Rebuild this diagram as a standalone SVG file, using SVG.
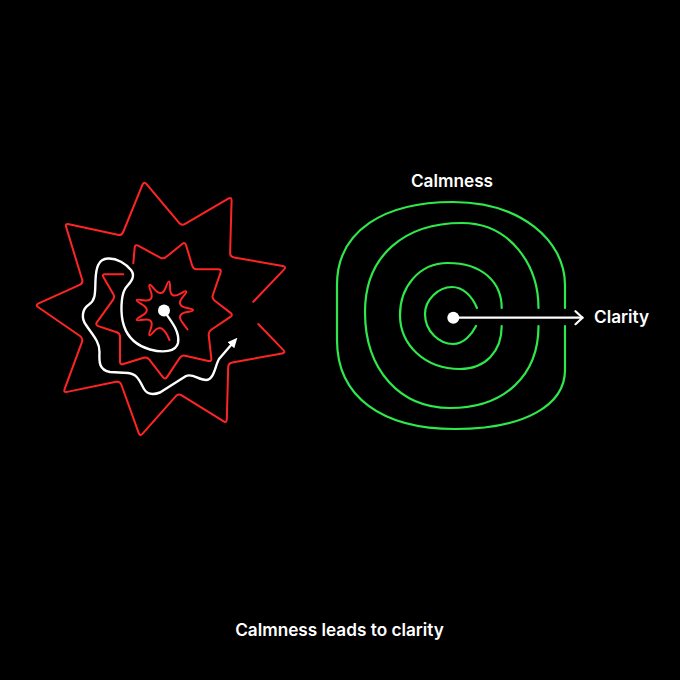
<svg xmlns="http://www.w3.org/2000/svg" width="680" height="680" viewBox="0 0 680 680">
<style>
.red{fill:none;stroke:#ff2424;stroke-width:2;stroke-linejoin:round;stroke-linecap:round}
.green{fill:none;stroke:#2ee84c;stroke-width:2.2;stroke-linecap:round}
.white{fill:none;stroke:#ffffff;stroke-width:2.4;stroke-linecap:round;stroke-linejoin:round}
.lbl{font-family:Inter,"Liberation Sans",sans-serif;font-weight:600;fill:#ffffff}
</style>
<defs>
<marker id="tri" viewBox="0 0 10 9" markerWidth="10" markerHeight="9" refX="1" refY="4.5" orient="auto" markerUnits="userSpaceOnUse">
<path d="M0,0 L10,4.5 L0,9 Z" fill="#ffffff"/>
</marker>
<marker id="chev" viewBox="0 0 10 16" markerWidth="10" markerHeight="16" refX="8.5" refY="8" orient="auto" markerUnits="userSpaceOnUse">
<path d="M1.5,1.5 L8.5,8 L1.5,14.5" fill="none" stroke="#ffffff" stroke-width="2.2" stroke-linecap="round" stroke-linejoin="round"/>
</marker>
</defs>
<rect width="680" height="680" fill="#000000"/>

<g id="chaos">
<path id="outer-star" class="red" d="M253.3,301.7 L283.94,269.59 Q286.7,266.7 282.76,266 L233.94,257.4 Q230,256.7 230.11,252.7 L231.59,200.7 Q231.7,196.7 228.25,198.72 L185.15,223.98 Q181.7,226 179.13,222.93 L146.57,184.07 Q144,181 142.49,184.7 L123.21,232 Q121.7,235.7 117.79,234.84 L68.91,224.16 Q65,223.3 66.17,227.12 L82.13,279.48 Q83.3,283.3 79.65,284.94 L38.65,303.36 Q35,305 38.29,307.27 L80.01,336.03 Q83.3,338.3 81.92,342.06 L64.68,388.94 Q63.3,392.7 67.22,391.89 L116.08,381.81 Q120,381 121.35,384.76 L138.65,432.94 Q140,436.7 142.65,433.7 L175.65,396.3 Q178.3,393.3 181.7,395.41 L223.3,421.19 Q226.7,423.3 226.81,419.3 L228.19,367.3 Q228.3,363.3 232.23,362.58 L282.07,353.42 Q286,352.7 283.22,349.82 L258.3,324"/>
<path id="middle-star" class="red" d="M133.3,263.3 L134.69,247.49 Q135,244 138.08,245.67 L160.22,257.63 Q163.3,259.3 166.02,257.09 L182.28,243.91 Q185,241.7 186.01,245.05 L192.29,265.95 Q193.3,269.3 196.8,269.3 L218.2,269.3 Q221.7,269.3 220.56,272.61 L212.84,294.99 Q211.7,298.3 214.47,300.44 L230.53,312.86 Q233.3,315 230.39,316.95 L211.21,329.75 Q208.3,331.7 208.7,335.18 L211.3,358.22 Q211.7,361.7 208.28,360.94 L185.12,355.76 Q181.7,355 179.75,357.91 L166.95,377.09 Q165,380 162.86,377.23 L149.14,359.47 Q147,356.7 143.65,357.73 L123.35,363.97 Q120,365 120,361.5 L120,336.8 Q120,333.3 116.68,332.2 L98.32,326.1 Q95,325 97.03,322.15 L112.97,299.85 Q115,297 113.23,293.98 L103.47,277.32 Q101.7,274.3 105.2,274.3 L123.3,274.3"/>
<path id="inner-star" class="red" d="M169.5,340 Q161.92,321.82 154.21,331.07 T150.66,329.02 T142.96,319.85 T141.56,315.99 T141.56,304.02 T142.96,300.16 T150.66,290.99 T154.21,288.94 T166,286.86 T170.04,287.57 T180.41,293.56 T183.05,296.7 T187.14,307.95 T187.14,312.05 T183.05,323.3 L187.5,329.5"/>
</g>

<g id="connectors">
<path id="wander" class="white" marker-end="url(#tri)" d="M164,311 C172,322 180,332 178,343 C176,352 163,353 150,349.5 C138,346 128,338 124,326 C120,314 121,296 125,289 C128,284 137,278 131,270 C126,264 117,258 108,258.5 C98,259 96,268 95.5,280 C95,292 96,300 89,304.5 C82,309 81,318 86,325 C92,334 100,342 99.5,352 C99,362 99,370 110,372 L128,373 C138,374 140,382 144,389 C147,394 153,395 160,392.5 L186,376 C193,373 198,380 206,380 C214,380 215,366 219,359 L231.5,344.5"/>
<path id="clarity-arrow" fill="none" stroke="#ffffff" stroke-width="2.2" stroke-linecap="round" marker-end="url(#chev)" d="M453.3,317.7 L582.5,317.7"/>
</g>

<g id="calm">
<path class="green" d="M565,308 L565,285 C565,240 520,202 453,202 C385,202 337,230 337,285 L337,340 C337,397 382,429 455,429 C525,429 565,405 565,370 L565,326"/>
<path class="green" d="M538.5,308 C538.5,265 510,223 462,223 C405,223 365,255 365,312 C365,370 400,408 450,408 C505,408 538.5,375 538.5,326"/>
<path class="green" d="M501.7,308 C501.7,282 482,263 448,263 C418,263 400,288 400,315 C400,345 425,369 460,369 C485,369 501.7,352 501.7,326"/>
<path class="green" d="M477,308 C472,296 463,287 452,287 C438,287 425,300 425,314 C425,332 440,344 453,344 C464,344 472,334 476,326"/>
</g>

<g id="dot-chaos"><circle cx="164" cy="310.5" r="6" fill="#ffffff"/></g>
<g id="dot-calm"><circle cx="453.3" cy="317.7" r="6" fill="#ffffff"/></g>

<g id="label-calmness"><text class="lbl" x="452" y="187.3" font-size="17.2" text-anchor="middle">Calmness</text></g>
<g id="label-clarity"><text class="lbl" x="594" y="322.6" font-size="17.2">Clarity</text></g>
<g id="caption"><text class="lbl" x="339.5" y="636" font-size="17.2" text-anchor="middle">Calmness leads to clarity</text></g>
</svg>
